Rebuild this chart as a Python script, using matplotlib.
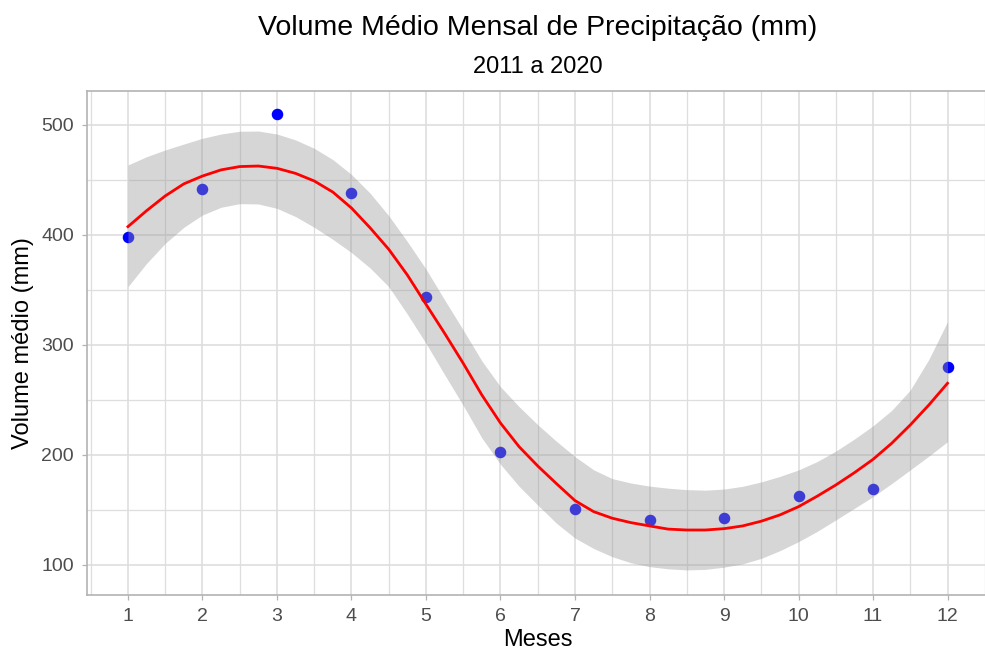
import matplotlib
matplotlib.use("Agg")
import matplotlib.pyplot as plt
from matplotlib.ticker import FixedLocator

plt.rcParams['font.family'] = ['Liberation Sans', 'DejaVu Sans']

# Data
meses = [1, 2, 3, 4, 5, 6, 7, 8, 9, 10, 11, 12]
volume = [398.5, 441.5, 509.7, 438.2, 343.6, 202.4, 151.0, 141.0, 142.7, 162.7, 169.4, 280.3]

# smooth curve (loess) and its confidence band at quarter-month steps
suave_x = [1.00, 1.25, 1.50, 1.75, 2.00, 2.25, 2.50, 2.75, 3.00, 3.25, 3.50, 3.75,
           4.00, 4.25, 4.50, 4.75, 5.00, 5.25, 5.50, 5.75, 6.00, 6.25, 6.50, 6.75,
           7.00, 7.25, 7.50, 7.75, 8.00, 8.25, 8.50, 8.75, 9.00, 9.25, 9.50, 9.75,
           10.00, 10.25, 10.50, 10.75, 11.00, 11.25, 11.50, 11.75, 12.00]
suave_y = [407.6, 422.1, 435.5, 446.5, 453.6, 459.2, 462.2, 462.7, 460.6, 456.0, 449.1, 439.0,
           424.5, 406.5, 387.0, 363.6, 337.0, 310.6, 283.3, 254.5, 229.0, 207.5, 190.0, 174.0,
           158.5, 148.5, 142.5, 138.5, 135.5, 132.6, 131.8, 131.8, 133.0, 135.5, 139.8, 145.5,
           153.0, 162.5, 172.7, 183.9, 196.0, 210.6, 227.3, 245.5, 265.2]
suave_sup = [463.6, 471.2, 477.3, 482.7, 487.9, 491.8, 494.3, 494.5, 491.8, 486.4, 478.8, 468.5,
             455.0, 438.0, 417.5, 394.0, 369.0, 341.0, 313.6, 285.5, 262.0, 243.9, 227.5, 212.5,
             198.5, 186.5, 178.5, 174.5, 171.7, 169.8, 168.5, 168.0, 169.0, 171.5, 175.5, 180.5,
             186.4, 194.0, 203.5, 214.5, 226.5, 240.5, 259.0, 287.0, 321.2]
suave_inf = [353.0, 374.2, 392.4, 407.0, 418.2, 425.2, 428.5, 428.2, 424.2, 416.7, 407.0, 396.0,
             384.0, 370.0, 353.0, 328.0, 301.5, 273.0, 245.0, 215.5, 191.5, 171.5, 154.5, 138.0,
             124.5, 115.0, 107.5, 102.0, 98.5, 96.5, 95.5, 96.0, 98.0, 101.0, 106.0, 113.0,
             121.2, 130.5, 140.9, 151.5, 162.1, 174.0, 186.4, 199.0, 212.1]

y_ticks = [100, 200, 300, 400, 500]
y_minor = [150, 250, 350, 450]
x_minor = [0.5 + i for i in range(13)]

W, H = 985, 655
fig = plt.figure(figsize=(W / 100, H / 100), dpi=100)
left, right, top, bottom = 87, 988.5, 91, 595
ax = fig.add_axes([left / W, 1 - bottom / H, (right - left) / W, (bottom - top) / H])

ax.set_xlim(0.45, 12.55)
ax.set_ylim(72.7, 530.9)

ax.xaxis.set_major_locator(FixedLocator(meses))
ax.xaxis.set_minor_locator(FixedLocator(x_minor))
ax.yaxis.set_major_locator(FixedLocator(y_ticks))
ax.yaxis.set_minor_locator(FixedLocator(y_minor))
ax.set_xticklabels([str(m) for m in meses])

grid_c = '#DEDEDE'
ax.grid(True, which='major', color=grid_c, linewidth=1.2, zorder=0)
ax.grid(True, which='minor', color=grid_c, linewidth=0.9, zorder=0)
ax.set_axisbelow(True)

for s in ax.spines.values():
    s.set_color('#B3B3B3')
    s.set_linewidth(1.2)

ax.tick_params(which='major', length=3.5, width=0.9, color='#B3B3B3',
               labelsize=14, labelcolor='#4D4D4D', pad=6)
ax.tick_params(which='minor', length=0)

ax.plot(meses, volume, 'o', color='#0000FF', markersize=7.3, zorder=2)
ax.fill_between(suave_x, suave_inf, suave_sup, color='#999999', alpha=0.4,
                linewidth=0, zorder=3)
ax.plot(suave_x, suave_y, color='#FF0000', linewidth=2.0, zorder=4,
        solid_joinstyle='round')

cx = (left + right) / 2 / W
fig.text(cx, 1 - 28 / H, 'Volume Médio Mensal de Precipitação (mm)', ha='center', va='center',
         fontsize=20.5, color='black')
fig.text(cx, 1 - 67 / H, '2011 a 2020', ha='center', va='center', fontsize=17, color='black')
fig.text(cx, 1 - 640 / H, 'Meses', ha='center', va='center', fontsize=17, color='black')
fig.text(23 / W, 1 - (top + bottom) / 2 / H, 'Volume médio (mm)', ha='center', va='center',
         rotation=90, fontsize=17, color='black')

fig.savefig('out.png', dpi=100)
